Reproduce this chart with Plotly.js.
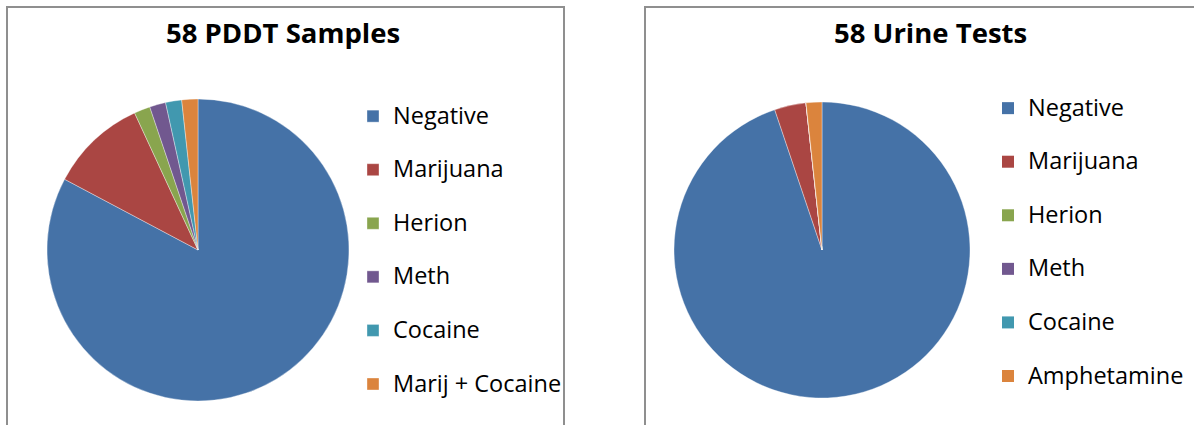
<!DOCTYPE html>
<html>
<head>
<meta charset="utf-8">
<script src="https://cdn.plot.ly/plotly-3.0.1.min.js"></script>
<style>html,body{margin:0;padding:0;background:#fff;}#chart{width:1194px;height:425px;}</style>
</head>
<body>
<div id="chart"></div>
<script>
// ---- data ----
var pddtCategories = ["Negative", "Marijuana", "Herion", "Meth", "Cocaine", "Marij + Cocaine"];
var pddtCounts = [48, 6, 1, 1, 1, 1];
var urineCategories = ["Negative", "Marijuana", "Herion", "Meth", "Cocaine", "Amphetamine"];
var urineCounts = [55, 2, 0, 0, 0, 1];
var sliceColors = ["#4572A7", "#AA4643", "#89A54E", "#71588F", "#4198AF", "#DB843D"];
var chartTitles = ["58 PDDT Samples", "58 Urine Tests"];

var W = 1194, H = 425;
function px(x) { return x / W; }
function py(y) { return 1 - y / H; }
function legendLabel(c) { return '<span style="font-size:23.5px">' + c + '</span><br> '; }

var common = {
  type: 'pie', sort: false, direction: 'clockwise', rotation: 0,
  textinfo: 'none', hoverinfo: 'label+value',
  marker: { colors: sliceColors, line: { color: 'rgba(255,255,255,0.6)', width: 0.6 } }
};

var trace1 = Object.assign({}, common, {
  labels: pddtCategories.map(legendLabel), values: pddtCounts,
  domain: { x: [px(47), px(349)], y: [py(401), py(99)] },
  legend: 'legend'
});
var trace2 = Object.assign({}, common, {
  labels: urineCategories, values: urineCounts,
  domain: { x: [px(674), px(970)], y: [py(398), py(102)] },
  showlegend: false
});

// Legend entries for the urine chart (Plotly hides zero-value pie slices from the legend)
var urineLegendTraces = urineCategories.map(function (c, i) {
  return {
    type: 'scatter', mode: 'markers', x: [null], y: [null], name: legendLabel(c),
    marker: { symbol: 'square', size: 12, color: sliceColors[i], line: { width: 0 } },
    legend: 'legend2', hoverinfo: 'skip', showlegend: true
  };
});

var legendFont = { family: 'Open Sans, sans-serif', size: 19.45, color: '#000' };
var titleFont = { family: 'Open Sans, sans-serif', size: 27.5, color: '#000' };
var layout = {
  width: W, height: H,
  margin: { l: 0, r: 0, t: 0, b: 0, autoexpand: false },
  paper_bgcolor: '#fff', plot_bgcolor: 'rgba(0,0,0,0)',
  showlegend: true,
  xaxis: { visible: false, domain: [0, 0.01] },
  yaxis: { visible: false, domain: [0, 0.01] },
  legend: { x: px(353), y: py(97), xanchor: 'left', yanchor: 'top', font: legendFont, valign: 'top', bgcolor: 'rgba(0,0,0,0)' },
  legend2: { x: px(988), y: py(89), xanchor: 'left', yanchor: 'top', font: legendFont, valign: 'top', bgcolor: 'rgba(0,0,0,0)' },
  annotations: [
    { text: '<b>' + chartTitles[0] + '</b>', x: px(283), y: py(33), xref: 'paper', yref: 'paper', xanchor: 'center', yanchor: 'middle', showarrow: false, font: titleFont },
    { text: '<b>' + chartTitles[1] + '</b>', x: px(930), y: py(33), xref: 'paper', yref: 'paper', xanchor: 'center', yanchor: 'middle', showarrow: false, font: titleFont }
  ],
  shapes: [
    { type: 'rect', xref: 'paper', yref: 'paper', x0: px(7), x1: px(564), y0: -0.2, y1: py(7), line: { color: '#8f8f8f', width: 2 } },
    { type: 'rect', xref: 'paper', yref: 'paper', x0: px(645), x1: 1.2, y0: -0.2, y1: py(7), line: { color: '#8f8f8f', width: 2 } }
  ]
};

Plotly.newPlot('chart', [trace1, trace2].concat(urineLegendTraces), layout, { displayModeBar: false, staticPlot: true });
</script>
</body>
</html>
